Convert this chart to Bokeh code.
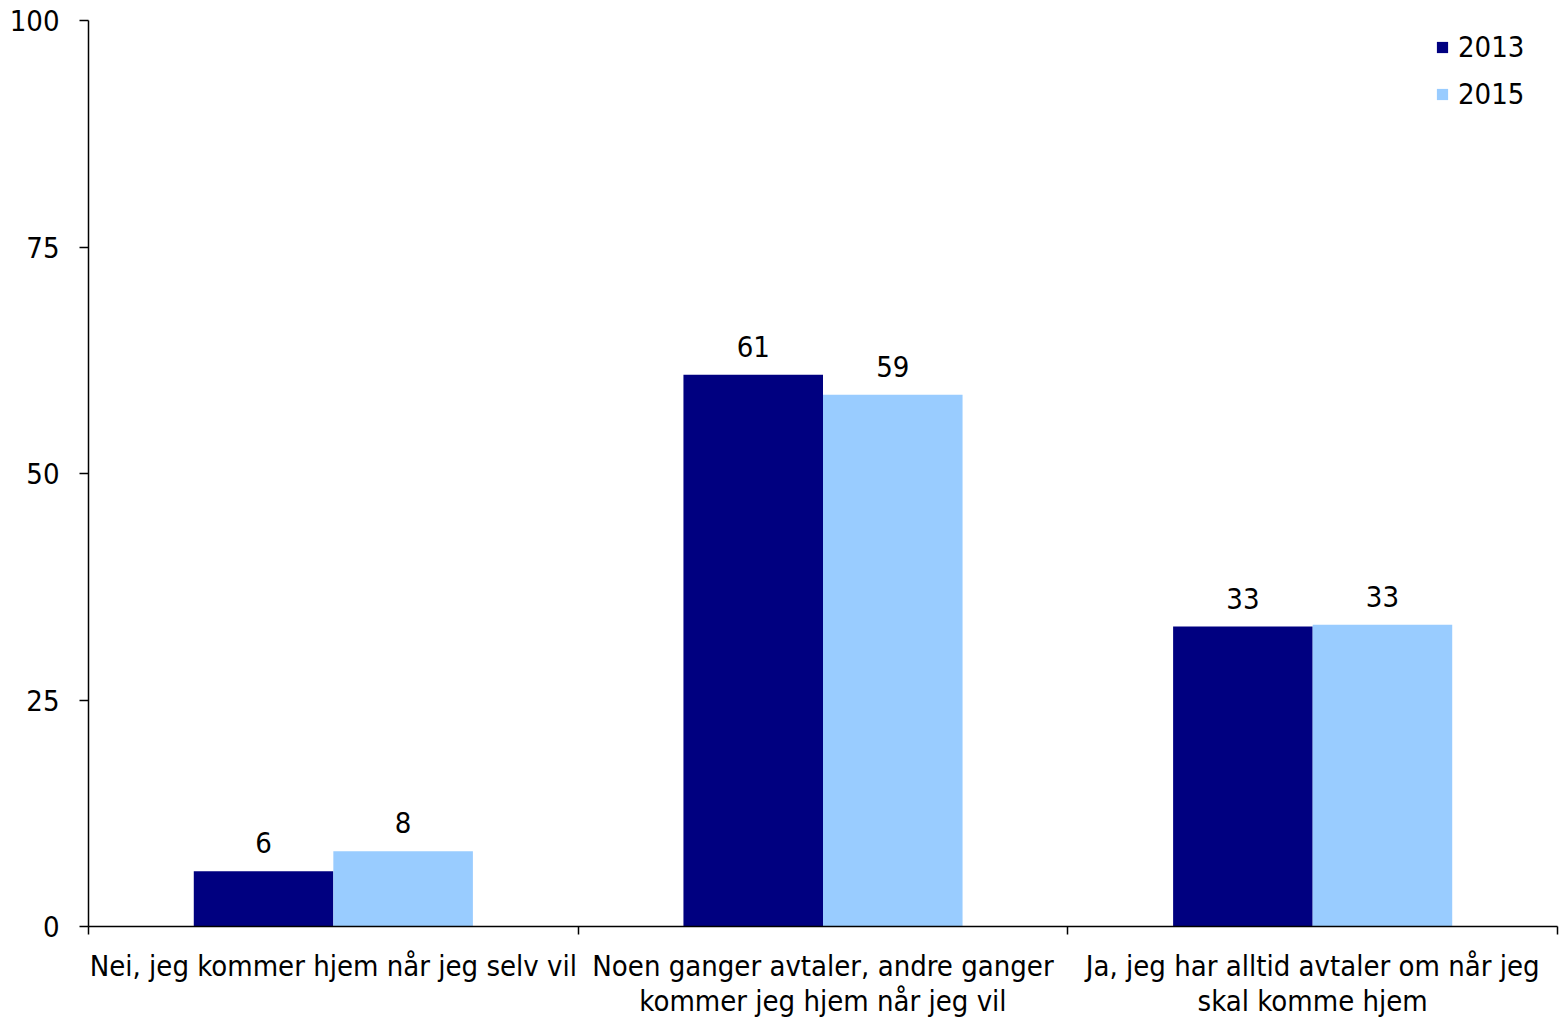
from bokeh.plotting import figure
from bokeh.models import (ColumnDataSource, FixedTicker, LinearAxis, Range1d,
                          Legend, LegendItem, LabelSet)
from bokeh.core.properties import value
from bokeh.embed import file_html
from bokeh.resources import INLINE

categories = [
    "Nei, jeg kommer hjem når jeg selv vil",
    "Noen ganger avtaler, andre ganger\nkommer jeg hjem når jeg vil",
    "Ja, jeg har alltid avtaler om når jeg\nskal komme hjem",
]
series_names = ["2013", "2015"]
values_2013 = [6.1, 60.9, 33.1]
values_2015 = [8.3, 58.7, 33.3]
labels_2013 = ["6", "61", "33"]
labels_2015 = ["8", "59", "33"]
y_ticks = [0, 25, 50, 75, 100]

FONT = "DejaVu Sans Condensed"
FS = "29px"
C2013 = "#000080"
C2015 = "#99CCFF"

n = len(categories)
bar_w = 0.285
centers = [i + 0.5 for i in range(n)]

src13 = ColumnDataSource(dict(x=[c - bar_w / 2 for c in centers], top=values_2013, lab=labels_2013))
src15 = ColumnDataSource(dict(x=[c + bar_w / 2 for c in centers], top=values_2015, lab=labels_2015))

p = figure(width=1564, height=1021, x_range=Range1d(0, n), y_range=Range1d(0, 100),
           output_backend="svg", toolbar_location=None, x_axis_location=None,
           min_border_left=88, min_border_right=7, min_border_top=20, min_border_bottom=94)
p.outline_line_color = None
p.xgrid.grid_line_color = None
p.ygrid.grid_line_color = None
p.background_fill_color = "white"
p.border_fill_color = "white"

r13 = p.vbar(x="x", top="top", width=bar_w, bottom=0, source=src13, fill_color=C2013, line_color=None)
r15 = p.vbar(x="x", top="top", width=bar_w, bottom=0, source=src15, fill_color=C2015, line_color=None)

for src in (src13, src15):
    p.add_layout(LabelSet(x="x", y="top", text="lab", source=src, text_align="center",
                          text_baseline="bottom", y_offset=18, text_font=value(FONT),
                          text_font_size=value(FS), text_color="black"))

# y axis
ya = p.yaxis[0]
ya.ticker = FixedTicker(ticks=y_ticks)
ya.axis_line_color = "black"
ya.axis_line_width = 1.5
ya.major_tick_line_color = "black"
ya.major_tick_line_width = 1.5
ya.major_tick_out = 9
ya.major_tick_in = 0
ya.minor_tick_line_color = None
ya.major_label_text_font = FONT
ya.major_label_text_font_size = FS
ya.major_label_text_color = "black"
ya.major_label_standoff = 20

# x axis: boundary ticks
xa_ticks = LinearAxis(ticker=FixedTicker(ticks=list(range(n + 1))))
xa_ticks.major_label_overrides = {i: "" for i in range(n + 1)}
xa_ticks.major_label_text_font_size = "0px"
xa_ticks.major_label_standoff = 0
xa_ticks.axis_line_color = "black"
xa_ticks.axis_line_width = 1.5
xa_ticks.major_tick_line_color = "black"
xa_ticks.major_tick_line_width = 1.5
xa_ticks.major_tick_out = 8
xa_ticks.major_tick_in = 0
xa_ticks.minor_tick_line_color = None
p.add_layout(xa_ticks, "below")

# x axis: category labels
xa_lab = LinearAxis(ticker=FixedTicker(ticks=centers))
xa_lab.major_label_overrides = {c: lab for c, lab in zip(centers, categories)}
xa_lab.axis_line_color = None
xa_lab.major_tick_line_color = None
xa_lab.minor_tick_line_color = None
xa_lab.major_label_text_font = FONT
xa_lab.major_label_text_font_size = FS
xa_lab.major_label_text_color = "black"
xa_lab.major_label_standoff = 8
xa_lab.major_label_text_line_height = 1.05
p.add_layout(xa_lab, "below")

legend = Legend(items=[LegendItem(label=series_names[0], renderers=[r13]),
                       LegendItem(label=series_names[1], renderers=[r15])],
                location=(1347, 815))
legend.border_line_color = None
legend.background_fill_alpha = 0
legend.glyph_width = 14
legend.glyph_height = 14
legend.label_text_font = FONT
legend.label_text_font_size = FS
legend.label_text_color = "black"
legend.label_standoff = 9
legend.spacing = 13
legend.margin = 0
legend.padding = 0
p.add_layout(legend)

open("out.html", "w").write(file_html(p, INLINE))
